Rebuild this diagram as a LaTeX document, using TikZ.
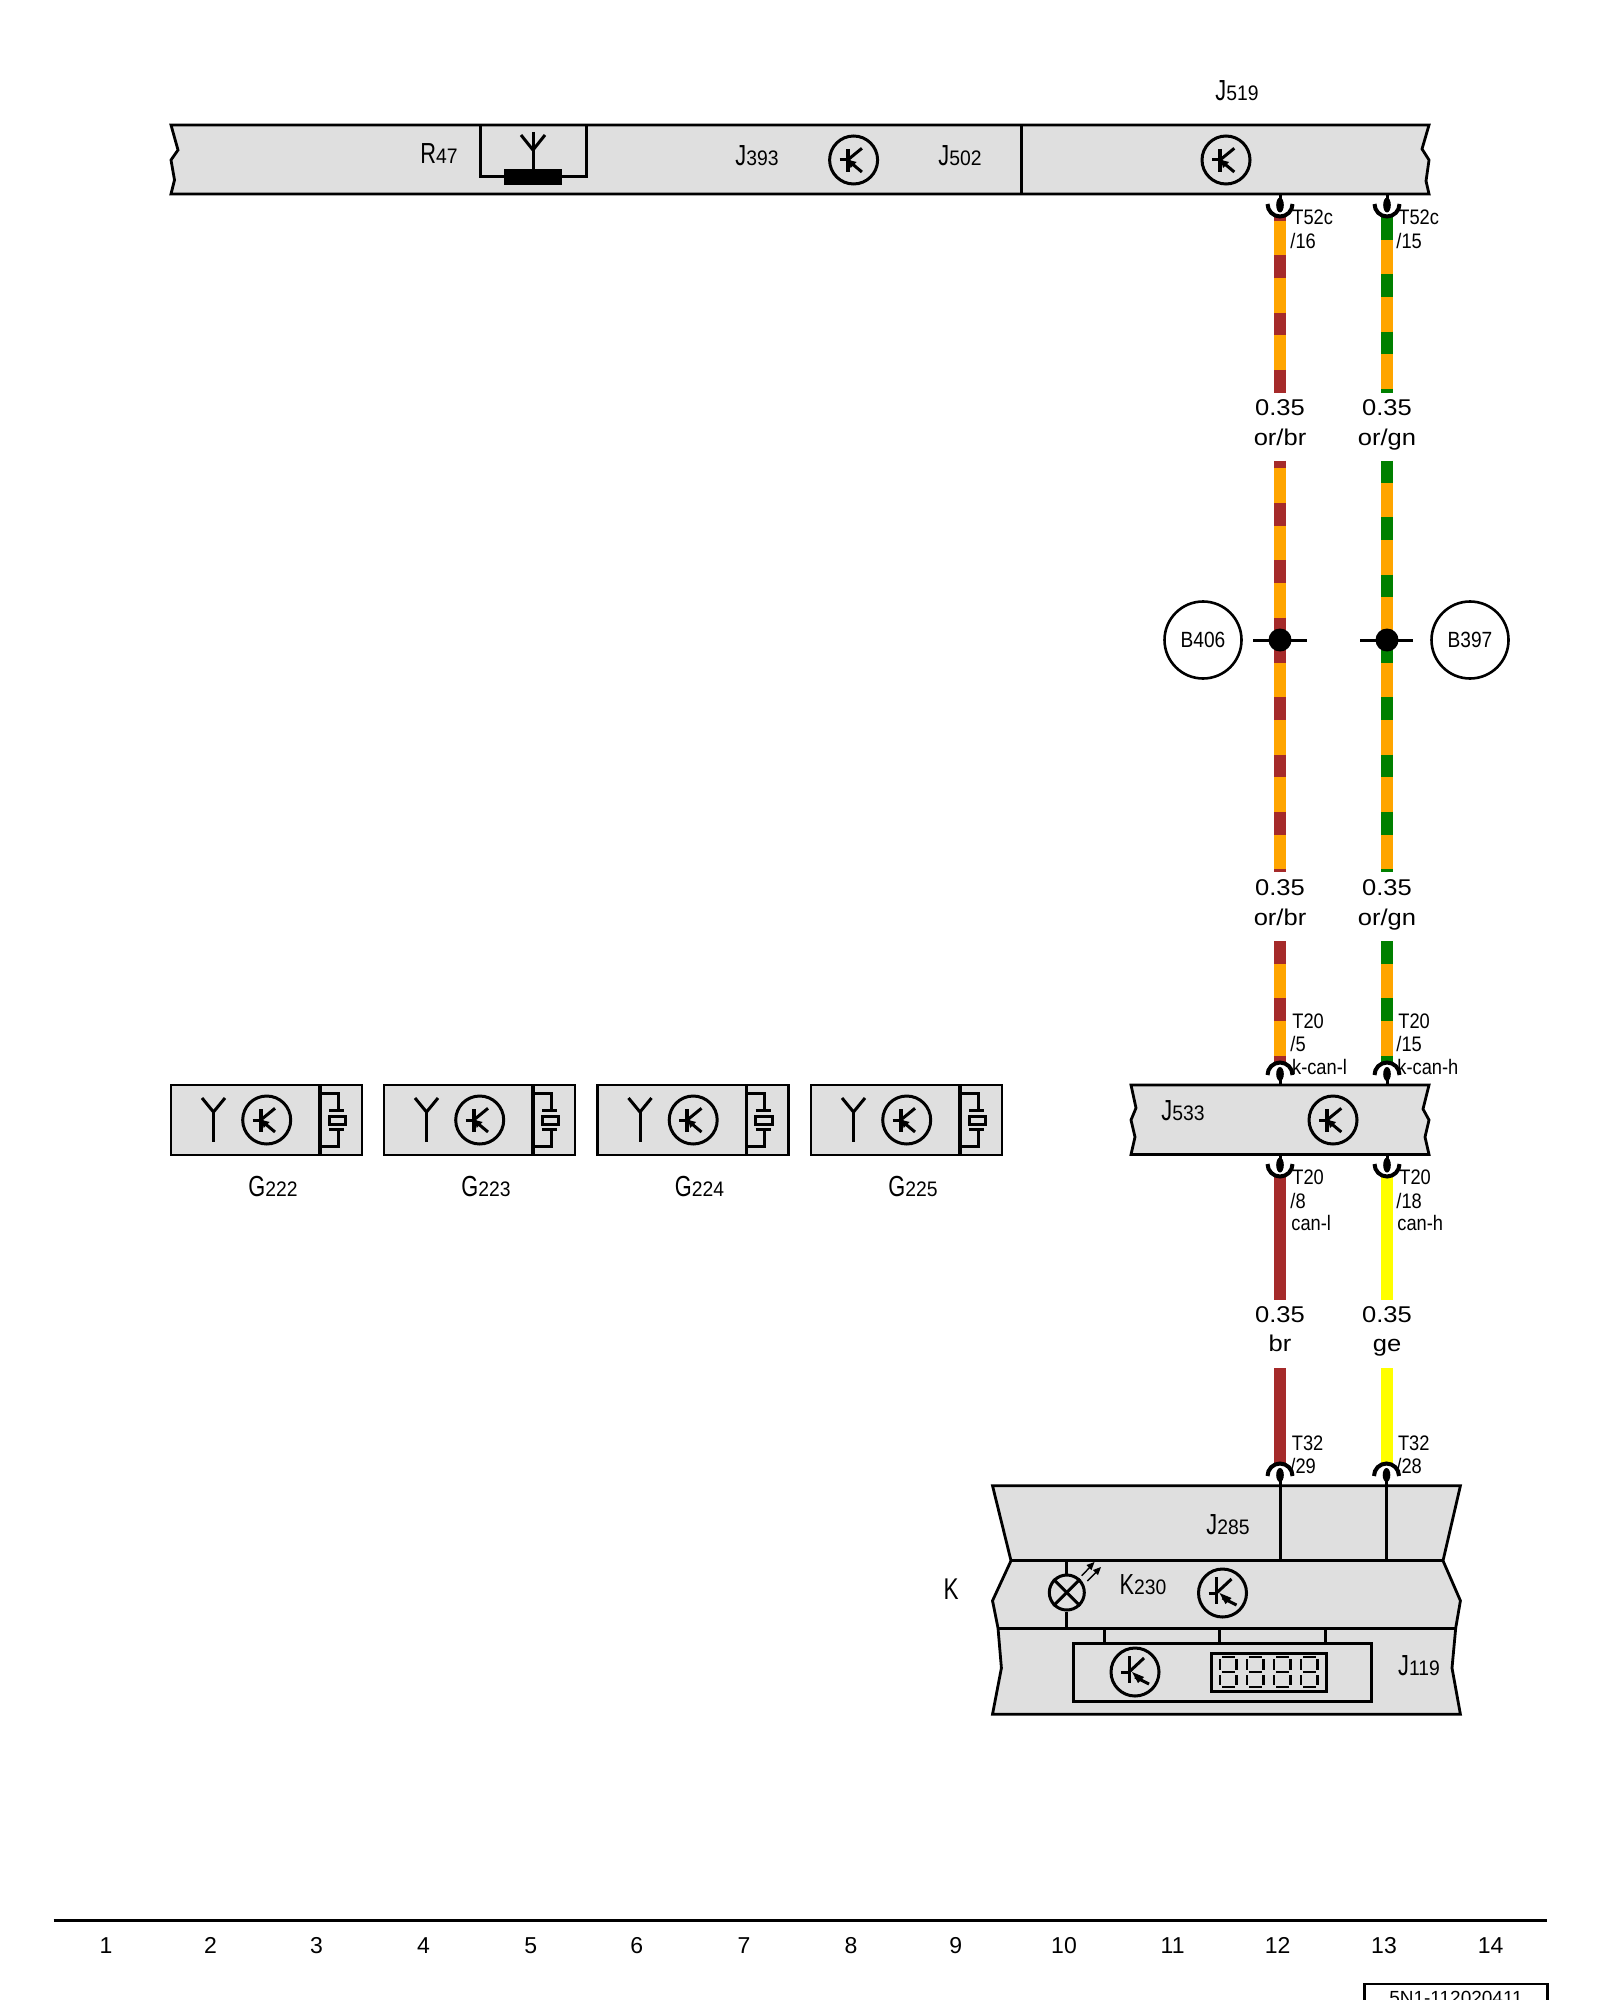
\documentclass[tikz,border=0pt]{standalone}
\usepackage{fontspec}
\setmainfont{Liberation Sans}
\newfontfamily\narrowA[FakeStretch=.87]{Liberation Sans}
\newfontfamily\digitA[FakeStretch=.92]{Liberation Sans}
\newfontfamily\capB[FakeStretch=.75]{Liberation Sans}
\newfontfamily\wideC[FakeStretch=1.12]{Liberation Sans}
\definecolor{boxgray}{HTML}{DFDFDF}
\definecolor{wor}{HTML}{FFA500}
\definecolor{wbr}{HTML}{A52A2A}
\definecolor{wgn}{HTML}{008000}
\definecolor{wge}{HTML}{FFFF00}
\newcommand{\complab}[2]{{\capB\fontsize{14.5}{14.5}\selectfont #1}{\digitA\fontsize{10.5}{10.5}\selectfont #2}}
\tikzset{
  outline/.style={draw=black,line width=1.4pt,line join=miter},
  boxfill/.style={outline,fill=boxgray},
  ink/.style={draw=black,line width=1.5pt},
  wirebase/.style={line width=5.6pt,line cap=butt},
  pin/.style={inner sep=0pt,anchor=west,text height=7.35pt,text depth=0pt,font=\narrowA\fontsize{10.5}{10.5}\selectfont},
  comp/.style={inner sep=0pt,anchor=center,text height=10pt,text depth=0pt},
  gauge/.style={inner sep=0pt,anchor=center,text height=7.6pt,text depth=0pt,font=\wideC\fontsize{11.4}{11.4}\selectfont},
  num/.style={inner sep=0pt,anchor=center,text height=8pt,text depth=0pt,font=\fontsize{11.5}{11.5}\selectfont},
  bubble/.style={circle,draw=black,line width=1.3pt,minimum size=38.5pt,inner sep=0pt,font=\narrowA\fontsize{11}{11}\selectfont},
  tcirc/.style={circle,draw=black,line width=1.5pt,minimum size=24pt,inner sep=0pt},
  seg/.style={draw=black,line width=1.1pt},
}
% stripe wire: #1 start, #2 end, #3 colour, #4 dash phase in pt
\newcommand{\stripewire}[4]{%
  \draw[wirebase,wor] (#1) -- (#2);
  \draw[wirebase,#3,dash pattern=on 11.33pt off 17.33pt,dash phase=#4] (#1) -- (#2);
}
% transistor symbols
\newcommand{\transA}[3]{%
  \node[tcirc] (#1) at (#2,#3) {};
  \begin{scope}[shift={(#1.center)}]
    \draw[ink] (-14,0) -- (-6,0);
    \draw[ink,line width=1.9pt] (-6,-11) -- (-6,12);
    \draw[ink] (-6,0) -- (8.3,-11.7);
    \draw[ink] (-6,0) -- (8.3,12);
    \fill[black] (-5,0) -- (3,2) -- (-3,8) -- cycle;
  \end{scope}
}
\newcommand{\transB}[3]{%
  \node[tcirc] (#1) at (#2,#3) {};
  \begin{scope}[shift={(#1.center)}]
    \draw[ink] (-14,0) -- (-6,0);
    \draw[ink] (-6,-16) -- (-6,11);
    \draw[ink] (-6,0) -- (9,-14);
    \draw[ink] (0,5) -- (14,12);
    \fill[black] (-3,0) -- (9,5) -- (3,11) -- cycle;
  \end{scope}
}
% terminals: stem from box edge (named), cup, oval
\newcommand{\termdown}[4]{% name, x, edge y, cup centre y
  \coordinate (#1s) at (#2,#3);
  \coordinate (#1c) at (#2,#4);
  \draw[ink] (#1s) -- (#1c);
  \fill[black] (#1c) ellipse (3.8 and 7.5);
  \draw[black,line width=2pt] ($(#1c)+(-12.5,-1)$) arc[start angle=180,end angle=360,x radius=12.5,y radius=-12.5];
}
\newcommand{\termup}[4]{%
  \coordinate (#1s) at (#2,#3);
  \coordinate (#1c) at (#2,#4);
  \draw[ink] (#1s) -- (#1c);
  \fill[black] (#1c) ellipse (3.8 and 7);
  \draw[black,line width=2pt] ($(#1c)+(-12.5,1)$) arc[start angle=180,end angle=0,x radius=12.5,y radius=-12.5];
}
\newcommand{\gbox}[3]{% name suffix, left x, number
  \begin{scope}[shift={(#2,0)}]
    \draw[boxfill] (0,1085) rectangle (191,1155);
    \draw[ink,line width=1.8pt] (149,1085) -- (149,1155);
    \coordinate (ant#1) at (42.5,1112);
    \draw[ink] (ant#1) -- (42.5,1142);
    \draw[ink] (31,1098) -- (ant#1) -- (54,1098);
    \transA{tg#1}{95.7}{1120}
    \draw[ink] (149,1093) -- (167,1093) -- (167,1110);
    \draw[ink] (158,1110) -- (173,1110);
    \draw[ink] (158,1116) rectangle (174.7,1124);
    \draw[ink] (158,1129.5) -- (173,1129.5);
    \draw[ink] (167,1129.5) -- (167,1146.7) -- (149,1146.7);
    \node[comp] (g#1) at (102,1186) {\complab{G}{#3}};
  \end{scope}
}
\usetikzlibrary{calc}
\begin{document}
\begin{tikzpicture}[x=.5pt,y=-.5pt]
\useasboundingbox (0,0) rectangle (1600,2000);
\clip (0,0) rectangle (1600,2000);
\fill[white] (0,0) rectangle (1600,2000);

% wires
\coordinate (a1) at (1280,217); \coordinate (a2) at (1280,393);
\coordinate (b1) at (1387,217); \coordinate (b2) at (1387,393);
\stripewire{a1}{a2}{wbr}{9.5pt}
\stripewire{b1}{b2}{wgn}{0pt}
\coordinate (m1t) at (1280,461); \coordinate (m1c) at (1280,640); \coordinate (m1b) at (1280,872);
\coordinate (m2t) at (1387,461); \coordinate (m2c) at (1387,640); \coordinate (m2b) at (1387,872);
\stripewire{m1t}{m1c}{wbr}{7.65pt}
\stripewire{m1c}{m1b}{wbr}{0pt}
\stripewire{m2t}{m2c}{wgn}{0.5pt}
\stripewire{m2c}{m2b}{wgn}{0pt}
\coordinate (c1t) at (1280,941); \coordinate (c1b) at (1280,1064);
\coordinate (c2t) at (1387,941); \coordinate (c2b) at (1387,1064);
\stripewire{c1t}{c1b}{wbr}{0pt}
\stripewire{c2t}{c2b}{wgn}{0pt}
\coordinate (d1t) at (1280,1176); \coordinate (d1b) at (1280,1300);
\coordinate (d2t) at (1387,1176); \coordinate (d2b) at (1387,1300);
\draw[wirebase,wbr] (d1t) -- (d1b);
\draw[wirebase,wge] (d2t) -- (d2b);
\coordinate (e1t) at (1280,1368); \coordinate (e1b) at (1280,1464);
\coordinate (e2t) at (1387,1368); \coordinate (e2b) at (1387,1464);
\draw[wirebase,wbr] (e1t) -- (e1b);
\draw[wirebase,wge] (e2t) -- (e2b);

% top bar
\draw[boxfill] (171,125) -- (1429,125) -- (1422,149) -- (1429,160) -- (1426,181) -- (1429,194)
  -- (171,194) -- (174.5,180) -- (171,160) -- (178,150) -- cycle;
\draw[ink] (1021,125) -- (1021,194);
\node[comp] (r47) at (439,153.5) {\complab{R}{47}};
\node[comp] (j393) at (757,155.5) {\complab{J}{393}};
\node[comp] (j502) at (960,155.5) {\complab{J}{502}};
\node[comp] (j519) at (1237,91) {\complab{J}{519}};
\draw[ink] (480,125) -- (480,177) -- (586,177) -- (586,125);
\node[fill=black,minimum width=29pt,minimum height=8pt,inner sep=0pt] (res) at (533,177) {};
\coordinate (antr) at (533,150);
\draw[ink] (533,132) -- (res.north);
\draw[ink] (521,135) -- (antr) -- (545,135);
\transA{tj393}{853.6}{160}
\transA{tj519}{1226}{160}

% terminals at top bar
\termdown{ta}{1280}{194}{205}
\termdown{tb}{1387}{194}{205}
\node[pin] (pa1) at (1292,217) {T52c};
\node[pin] (pa2) at (1290,241) {/16};
\node[pin] (pb1) at (1398,217) {T52c};
\node[pin] (pb2) at (1396,241) {/15};

\node[gauge] (la1) at (1280,408) {0.35};
\node[gauge] (la2) at (1280,438) {or/br};
\node[gauge] (lb1) at (1387,408) {0.35};
\node[gauge] (lb2) at (1387,438) {or/gn};
\node[gauge] (lc1) at (1280,888) {0.35};
\node[gauge] (lc2) at (1280,917.5) {or/br};
\node[gauge] (ld1) at (1387,888) {0.35};
\node[gauge] (ld2) at (1387,917.5) {or/gn};
\node[gauge] (le1) at (1280,1314.5) {0.35};
\node[gauge] (le2) at (1280,1344) {br};
\node[gauge] (lf1) at (1387,1314.5) {0.35};
\node[gauge] (lf2) at (1387,1344) {ge};

% splices
\node[bubble] (b406) at (1203,640) {B406};
\node[bubble] (b397) at (1470,640) {B397};
\coordinate (s1l) at (1253,640); \coordinate (s1r) at (1307,640);
\coordinate (s2l) at (1360,640); \coordinate (s2r) at (1413,640);
\draw[ink] (s1l) -- (s1r);
\draw[ink] (s2l) -- (s2r);
\fill[black] (m1c) circle (11.5);
\fill[black] (m2c) circle (11.5);

% J533
\draw[boxfill] (1131,1085) -- (1429,1085) -- (1423,1109) -- (1429,1120) -- (1425,1137) -- (1429,1154.5)
  -- (1131,1154.5) -- (1135,1137) -- (1131,1120) -- (1136,1108) -- cycle;
\node[comp] (j533) at (1183,1110) {\complab{J}{533}};
\transA{tj533}{1333}{1120}
\termup{tc}{1280}{1085}{1074}
\termup{td}{1387}{1085}{1074}
\termdown{te}{1280}{1154.5}{1165}
\termdown{tf}{1387}{1154.5}{1165}
\node[pin] (pc1) at (1292,1021.5) {T20};
\node[pin] (pc2) at (1290,1044) {/5};
\node[pin] (pc3) at (1291.7,1066.7) {k-can-l};
\node[pin] (pd1) at (1398,1021.5) {T20};
\node[pin] (pd2) at (1396,1044) {/15};
\node[pin] (pd3) at (1397,1066.7) {k-can-h};
\node[pin] (pe1) at (1292,1177) {T20};
\node[pin] (pe2) at (1290,1200.7) {/8};
\node[pin] (pe3) at (1291,1222.7) {can-l};
\node[pin] (pf1) at (1399,1177) {T20};
\node[pin] (pf2) at (1396,1200.7) {/18};
\node[pin] (pf3) at (1397,1222.7) {can-h};

% G boxes
\gbox{a}{171}{222}
\gbox{b}{384}{223}
\gbox{c}{597.5}{224}
\gbox{d}{811}{225}

% instrument cluster
\draw[boxfill] (992.5,1485.7) -- (1460.4,1485.7) -- (1443,1560.7) -- (1460.4,1600.7) -- (1455.7,1628)
  -- (1452,1668) -- (1460.4,1714.3) -- (992.5,1714.3) -- (1001.4,1668) -- (998,1628) -- (992.5,1600.7)
  -- (1011,1560.7) -- cycle;
\draw[ink] (1011,1560.7) -- (1443,1560.7);
\draw[ink] (998,1628) -- (1455.7,1628);
\termup{tg}{1280}{1560.7}{1475}
\termup{th}{1386.5}{1560.7}{1475}
\node[pin] (pg1) at (1291.5,1443) {T32};
\node[pin] (pg2) at (1290,1466) {/29};
\node[pin] (ph1) at (1397.6,1443) {T32};
\node[pin] (ph2) at (1396,1466) {/28};
\node[comp] (j285) at (1228,1524) {\complab{J}{285}};
\node[inner sep=0pt,text height=10pt,text depth=0pt,font=\capB\fontsize{15}{15}\selectfont] (kk) at (951,1589) {K};
\node[comp] (k230) at (1143,1584) {\complab{K}{230}};
\node[comp] (j119) at (1419,1665) {\complab{J}{119}};
% lamp
\node[circle,draw=black,line width=1.5pt,minimum size=17.5pt,inner sep=0pt] (lamp) at (1066.8,1592.5) {};
\draw[ink] (1066.8,1560.7) -- (lamp.north);
\draw[ink] (lamp.south) -- (1066.8,1628);
\draw[ink] (lamp.north west) -- (lamp.south east);
\draw[ink] (lamp.north east) -- (lamp.south west);
\draw[black,line width=.7pt] (1081.7,1575.7) -- (1092.7,1564.3);
\draw[black,line width=.7pt] (1087.3,1581) -- (1099.3,1569);
\fill[black] (1094.5,1562) -- (1086.5,1565) -- (1091.5,1570) -- cycle;
\fill[black] (1101,1567) -- (1093,1570) -- (1098,1575) -- cycle;
\transB{tk}{1222.5}{1593}
% J119 module
\draw[ink] (1073.6,1643) rectangle (1371.8,1701);
\foreach \sx/\nm in {1104.3/sa,1219.3/sb,1325.4/sc}{\draw[ink] (\sx,1628) -- (\sx,1643);}
\transB{tm}{1135}{1672}
\draw[ink] (1211,1653.3) rectangle (1326,1691.7);
\foreach \i in {0,1,2,3}{
  \begin{scope}[shift={(1220+27*\i,0)}]
    \draw[seg] (2,1656.7) -- (14.5,1656.7);
    \draw[seg] (2,1672.3) -- (14.5,1672.3);
    \draw[seg] (2,1687.3) -- (14.5,1687.3);
    \draw[seg] (0,1659) -- (0,1670);
    \draw[seg] (16.5,1659) -- (16.5,1670);
    \draw[seg] (0,1675) -- (0,1685);
    \draw[seg] (16.5,1675) -- (16.5,1685);
  \end{scope}
}

% ruler
\coordinate (rl) at (53.6,1920.7); \coordinate (rr) at (1546.7,1920.7);
\draw[black,line width=1.3pt] (rl) -- (rr);
\foreach \x/\t in {106/1,210.5/2,316.4/3,423.6/4,530.8/5,636.7/6,743.9/7,851/8,955.7/9,1064/10,1172.6/11,1277.7/12,1384/13,1490.7/14}{
  \node[num] (n\t) at (\x,1945.7) {\t};
}
\draw[black,line width=1.3pt] (1364.3,2010) -- (1364.3,1984) -- (1547.7,1984) -- (1547.7,2010);
\node[inner sep=0pt,text height=7pt,text depth=0pt,font=\fontsize{9.5}{9.5}\selectfont] (docid) at (1456,1997) {5N1-112020411};
\end{tikzpicture}
\end{document}
